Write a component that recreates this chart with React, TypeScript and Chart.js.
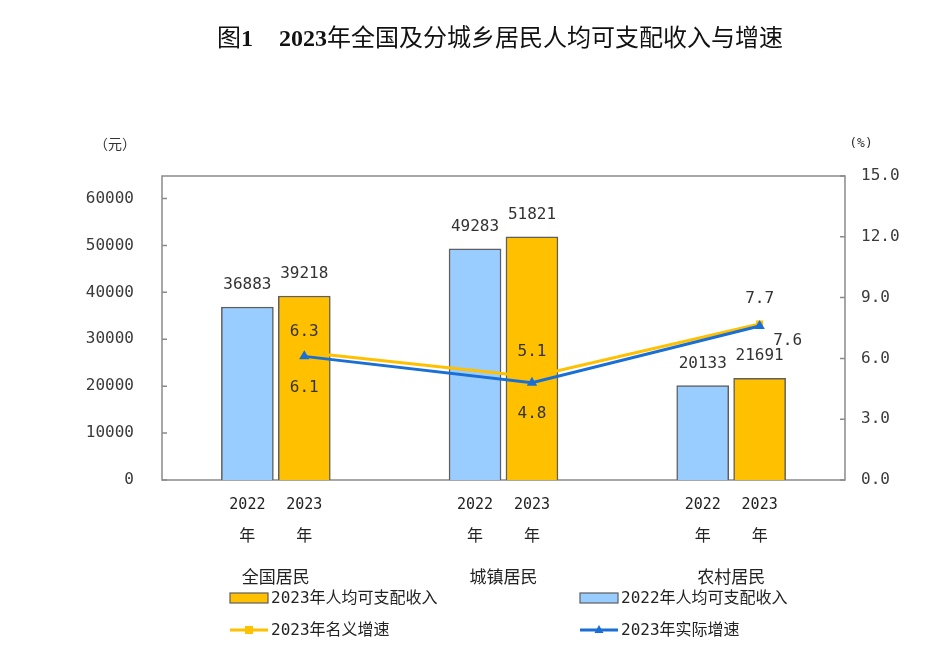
import React, { useEffect, useRef } from "react";
import { Chart, registerables } from "chart.js";

Chart.register(...registerables);

// ---- data ----
const CATEGORIES = ["全国居民", "城镇居民", "农村居民"];
const YEARS = ["2022", "2023"];
const INCOME_2022 = [36883, 49283, 20133];
const INCOME_2023 = [39218, 51821, 21691];
const NOMINAL_GROWTH = [6.3, 5.1, 7.7];
const REAL_GROWTH = [6.1, 4.8, 7.6];
const LEFT_TICKS = [0, 10000, 20000, 30000, 40000, 50000, 60000];
const RIGHT_TICKS = [0, 3, 6, 9, 12, 15];
const LEGEND_LABELS = ["2023年人均可支配收入", "2022年人均可支配收入", "2023年名义增速", "2023年实际增速"];
const TITLE_PREFIX = "图";
const TITLE_NUM = "1";
const TITLE_YEAR = "2023";
const TITLE_REST = "年全国及分城乡居民人均可支配收入与增速";
const LEFT_UNIT = "（元）";
const RIGHT_UNIT = "(%)";

// ---- style ----
const W = 930;
const H = 645;
const MONO = '"DejaVu Sans Mono", "Noto Sans CJK SC", monospace';
const CJK = '"Noto Sans CJK SC", "DejaVu Sans", sans-serif';
const SERIF = '"Liberation Serif", "Noto Sans CJK SC", serif';
const BLUE_BAR = "#99CCFF";
const YELLOW = "#FFC000";
const BLUE_LINE = "#1a6fd4";
const BAR_BORDER = "#5e5e5e";
const TEXT = "#333333";
const BAR_THICKNESS = 52;
// horizontal shift (in category units) of each bar from its category centre
const BAR_SHIFT = [-0.125, 0.125];
// label placement (dx, dy) for line point labels
const NOMINAL_LABEL_POS = [[0, -20], [0, -25], [0, -25]];
const REAL_LABEL_POS = [[0, 31], [0, 31], [28, 15]];

function drawTriangle(ctx: CanvasRenderingContext2D, x: number, y: number, r: number) {
  ctx.beginPath();
  ctx.moveTo(x, y - r);
  ctx.lineTo(x + r * 0.9, y + r * 0.6);
  ctx.lineTo(x - r * 0.9, y + r * 0.6);
  ctx.closePath();
  ctx.fill();
}

const framePlugin = {
  id: "frame",
  beforeDatasetsDraw(chart: any) {
    const { ctx, chartArea: a, scales } = chart;
    ctx.save();
    ctx.strokeStyle = "#8a8a8a";
    ctx.lineWidth = 1.5;
    ctx.strokeRect(a.left, a.top, a.right - a.left, a.bottom - a.top);
    ctx.beginPath();
    LEFT_TICKS.forEach((v) => {
      const y = scales.y.getPixelForValue(v);
      ctx.moveTo(a.left, y);
      ctx.lineTo(a.left + 5, y);
    });
    RIGHT_TICKS.forEach((v) => {
      const y = scales.y1.getPixelForValue(v);
      ctx.moveTo(a.right, y);
      ctx.lineTo(a.right - 5, y);
    });
    ctx.stroke();
    ctx.restore();
  },
};

const textPlugin = {
  id: "texts",
  afterDraw(chart: any) {
    const { ctx, scales } = chart;
    ctx.save();
    ctx.textAlign = "center";
    ctx.textBaseline = "middle";
    ctx.fillStyle = TEXT;

    // bar value labels + year labels
    [0, 1].forEach((di) => {
      const meta = chart.getDatasetMeta(di);
      meta.data.forEach((bar: any, i: number) => {
        const v = chart.data.datasets[di].data[i].y;
        ctx.font = `16px ${MONO}`;
        ctx.fillStyle = TEXT;
        ctx.fillText(String(v), bar.x, bar.y - 22);
        ctx.fillStyle = "#222";
        ctx.font = `15px ${MONO}`;
        ctx.fillText(YEARS[di], bar.x, 497);
        ctx.font = `16px ${CJK}`;
        ctx.fillText("年", bar.x, 527);
      });
    });

    // category labels
    ctx.font = `17px ${CJK}`;
    ctx.fillStyle = "#222";
    CATEGORIES.forEach((c, i) => {
      ctx.fillText(c, scales.x.getPixelForValue(i), 569);
    });

    // line labels
    ctx.font = `16px ${MONO}`;
    ctx.fillStyle = TEXT;
    const lineLabels: [number, number[][]][] = [
      [2, NOMINAL_LABEL_POS],
      [3, REAL_LABEL_POS],
    ];
    lineLabels.forEach(([di, pos]) => {
      const meta = chart.getDatasetMeta(di);
      meta.data.forEach((pt: any, i: number) => {
        const v = chart.data.datasets[di].data[i].y;
        ctx.fillText(v.toFixed(1), pt.x + pos[i][0], pt.y + pos[i][1]);
      });
    });

    // units
    ctx.font = `14px ${CJK}`;
    ctx.fillStyle = TEXT;
    ctx.fillText(LEFT_UNIT, 107, 136);
    ctx.font = `13px ${MONO}`;
    ctx.fillText(RIGHT_UNIT, 853, 136);

    // title
    const parts: [string, boolean][] = [
      [TITLE_PREFIX, false],
      [TITLE_NUM, true],
      ["", false],
      [TITLE_YEAR, true],
      [TITLE_REST, false],
    ];
    const gap = 26;
    const fontOf = (b: boolean) => `${b ? "bold " : ""}24px ${SERIF}`;
    let total = 0;
    parts.forEach(([t, b]) => {
      ctx.font = fontOf(b);
      total += t === "" ? gap : ctx.measureText(t).width;
    });
    let x = 492 - total / 2;
    ctx.textAlign = "left";
    ctx.fillStyle = "#111";
    parts.forEach(([t, b]) => {
      ctx.font = fontOf(b);
      if (t === "") {
        x += gap;
        return;
      }
      ctx.fillText(t, x, 32);
      x += ctx.measureText(t).width;
    });

    // legend
    const cols = [222, 572];
    const rows = [590, 622];
    const mw = 38;
    ctx.textAlign = "left";
    const items = [
      { kind: "box", color: YELLOW, label: LEGEND_LABELS[0], c: 0, r: 0 },
      { kind: "box", color: BLUE_BAR, label: LEGEND_LABELS[1], c: 1, r: 0 },
      { kind: "rect", color: YELLOW, label: LEGEND_LABELS[2], c: 0, r: 1 },
      { kind: "tri", color: BLUE_LINE, label: LEGEND_LABELS[3], c: 1, r: 1 },
    ];
    items.forEach((it) => {
      const lx = cols[it.c];
      const ly = rows[it.r];
      if (it.kind === "box") {
        ctx.fillStyle = it.color;
        ctx.fillRect(lx, ly - 5, mw, 10);
        ctx.strokeStyle = BAR_BORDER;
        ctx.lineWidth = 1.2;
        ctx.strokeRect(lx, ly - 5, mw, 10);
      } else {
        ctx.strokeStyle = it.color;
        ctx.lineWidth = 3;
        ctx.beginPath();
        ctx.moveTo(lx, ly);
        ctx.lineTo(lx + mw, ly);
        ctx.stroke();
        ctx.fillStyle = it.color;
        if (it.kind === "rect") ctx.fillRect(lx + mw / 2 - 4, ly - 4, 8, 8);
        else drawTriangle(ctx, lx + mw / 2, ly, 5);
      }
      ctx.fillStyle = "#222";
      ctx.font = `16px ${MONO}`;
      ctx.fillText(it.label, lx + mw + 3, ly + 1);
    });

    ctx.restore();
  },
};

export default function App() {
  const ref = useRef<HTMLCanvasElement | null>(null);

  useEffect(() => {
    if (!ref.current) return;
    const tickFont = { family: MONO, size: 16 };
    const barData = (vals: number[], di: number) => vals.map((v, i) => ({ x: i + BAR_SHIFT[di], y: v }));
    const lineData = (vals: number[]) => vals.map((v, i) => ({ x: i + BAR_SHIFT[1], y: v }));
    const chart = new Chart(ref.current, {
      type: "bar",
      data: {
        datasets: [
          {
            type: "bar",
            label: LEGEND_LABELS[1],
            data: barData(INCOME_2022, 0),
            backgroundColor: BLUE_BAR,
            borderColor: BAR_BORDER,
            borderWidth: 1.5,
            barThickness: BAR_THICKNESS,
            grouped: false,
            yAxisID: "y",
            order: 3,
          },
          {
            type: "bar",
            label: LEGEND_LABELS[0],
            data: barData(INCOME_2023, 1),
            backgroundColor: YELLOW,
            borderColor: BAR_BORDER,
            borderWidth: 1.5,
            barThickness: BAR_THICKNESS,
            grouped: false,
            yAxisID: "y",
            order: 3,
          },
          {
            type: "line",
            label: LEGEND_LABELS[2],
            data: lineData(NOMINAL_GROWTH),
            borderColor: YELLOW,
            backgroundColor: YELLOW,
            borderWidth: 3,
            pointStyle: "rect",
            pointRadius: 5,
            pointBorderWidth: 0,
            tension: 0,
            yAxisID: "y1",
            order: 1,
          },
          {
            type: "line",
            label: LEGEND_LABELS[3],
            data: lineData(REAL_GROWTH),
            borderColor: BLUE_LINE,
            backgroundColor: BLUE_LINE,
            borderWidth: 3,
            pointStyle: "triangle",
            pointRadius: 6,
            pointBorderWidth: 0,
            tension: 0,
            yAxisID: "y1",
            order: 0,
          },
        ] as any,
      },
      options: {
        responsive: false,
        animation: false,
        layout: { padding: { top: 168, bottom: 173, left: 0, right: 0 } },
        plugins: {
          legend: { display: false },
          tooltip: { enabled: false },
          title: { display: false },
        },
        scales: {
          x: {
            type: "linear",
            display: false,
            offset: false,
            min: -0.5,
            max: CATEGORIES.length - 0.5,
            grid: { offset: false },
          },
          y: {
            type: "linear",
            position: "left",
            min: 0,
            max: 64800,
            grid: { display: false, drawTicks: false },
            border: { display: false },
            ticks: {
              font: tickFont,
              color: "#3a3a3a",
              padding: 28,
              callback: (v: any) => String(v),
            },
            afterBuildTicks: (s: any) => {
              s.ticks = LEFT_TICKS.map((v) => ({ value: v }));
            },
            afterFit: (s: any) => {
              s.width = 154;
            },
          },
          y1: {
            type: "linear",
            position: "right",
            min: 0,
            max: 15,
            grid: { display: false, drawTicks: false },
            border: { display: false },
            ticks: {
              font: tickFont,
              color: "#3a3a3a",
              padding: 16,
              callback: (v: any) => Number(v).toFixed(1),
            },
            afterBuildTicks: (s: any) => {
              s.ticks = RIGHT_TICKS.map((v) => ({ value: v }));
            },
            afterFit: (s: any) => {
              s.width = 93;
            },
          },
        } as any,
      },
      plugins: [framePlugin, textPlugin],
    });
    return () => chart.destroy();
  }, []);

  return (
    <div style={{ width: W, height: H }}>
      <canvas ref={ref} width={W} height={H} style={{ display: "block" }} />
    </div>
  );
}
